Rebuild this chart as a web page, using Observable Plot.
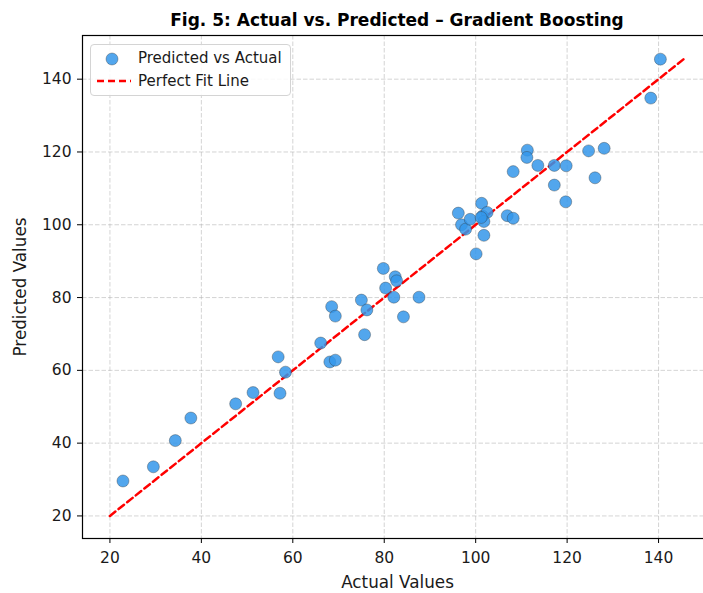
<!DOCTYPE html>
<html>
<head>
<meta charset="utf-8">
<script src="https://cdn.jsdelivr.net/npm/d3@7"></script>
<script src="https://cdn.jsdelivr.net/npm/@observablehq/plot@0.6"></script>
<style>
  html, body { margin: 0; padding: 0; background: #fff; overflow: hidden; width: 703px; height: 593px; }
  #wrap { position: relative; width: 712px; height: 593px; font-family: "DejaVu Sans", sans-serif; }
  #title { position: absolute; left: 82px; top: 0; width: 630px; height: 34px; line-height: 40px; text-align: center; font-weight: bold; font-size: 17px; color: #000; }
  #chart { position: absolute; left: 0; top: 34px; }
  #chart g[aria-label="x-axis label"], #chart g[aria-label="y-axis label"] { font-size: 16.8px; }
  #legend { position: absolute; left: 90px; top: 44px; width: 199px; height: 50px; border: 1px solid #d4d4d4; border-radius: 4px; background: rgba(255,255,255,0.85); font-size: 15px; color: #1a1a1a; }
  .row { position: absolute; left: 0; height: 20px; line-height: 20px; white-space: nowrap; }
  .row svg { position: absolute; left: 4px; top: 0; }
  .row span { position: absolute; left: 47px; top: 0; }
</style>
</head>
<body>
<div id="wrap">
  <div id="title">Fig. 5: Actual vs. Predicted – Gradient Boosting</div>
  <div id="chart"></div>
  <div id="legend">
    <div class="row" style="top:3px"><svg width="40" height="20"><circle cx="17" cy="11" r="6" fill="#3496ea" fill-opacity="0.85" stroke="#333" stroke-opacity="0.6" stroke-width="0.6"></circle></svg><span>Predicted vs Actual</span></div>
    <div class="row" style="top:26px"><svg width="40" height="20"><line x1="2" x2="36" y1="10" y2="10" stroke="red" stroke-width="2.5" stroke-dasharray="7,4"></line></svg><span>Perfect Fit Line</span></div>
  </div>
</div>
<script>
const actual = [22.85, 29.5, 34.3, 37.7, 47.5, 51.3, 57.2, 56.8, 58.4, 66.1,
  68.5, 69.3, 68.1, 69.3, 75.0, 76.2, 75.7, 79.8, 82.4, 82.7,
  80.3, 82.1, 87.6, 84.2, 96.2, 101.3, 96.9, 97.8, 98.8, 101.5,
  102.5, 101.8, 101.2, 106.9, 108.2, 101.8, 100.1, 111.3, 111.2, 108.2,
  113.6, 117.2, 119.8, 117.2, 119.7, 124.7, 128.1, 126.1, 140.4, 138.3];
const predicted = [29.6, 33.5, 40.7, 46.9, 50.8, 53.9, 53.7, 63.7, 59.5, 67.5,
  77.5, 74.9, 62.3, 62.8, 79.3, 76.6, 69.8, 88.0, 85.7, 84.6,
  82.6, 80.1, 80.1, 74.7, 103.2, 105.9, 100.0, 98.8, 101.5, 102.4,
  103.4, 100.9, 102.0, 102.5, 101.8, 97.1, 92.0, 120.5, 118.5, 114.6,
  116.3, 116.3, 116.2, 110.9, 106.3, 120.3, 121.0, 112.9, 145.5, 134.8];
const fitLine = [20, 145.5];
const xTicks = [20, 40, 60, 80, 100, 120, 140];
const yTicks = [20, 40, 60, 80, 100, 120, 140];

const points = actual.map((a, i) => ({actual: a, predicted: predicted[i]}));
const linePts = fitLine.map(v => ({x: v, y: v}));

const chart = Plot.plot({
  width: 712,
  height: 559,
  marginLeft: 82,
  marginRight: 0,
  marginTop: 1,
  marginBottom: 55,
  style: {fontFamily: "DejaVu Sans, sans-serif", fontSize: "16px", color: "#1a1a1a", background: "white", overflow: "visible"},
  x: {domain: [14, 151.8]},
  y: {domain: [13.8, 152]},
  marks: [
    Plot.gridX(xTicks, {stroke: "#b0b0b0", strokeOpacity: 0.55, strokeDasharray: "4.5,2", strokeWidth: 1}),
    Plot.gridY(yTicks, {stroke: "#b0b0b0", strokeOpacity: 0.55, strokeDasharray: "4.5,2", strokeWidth: 1}),
    Plot.axisX({ticks: xTicks, tickSize: 5, tickPadding: 8, fontSize: 15.5, label: "Actual Values", labelAnchor: "center", labelArrow: "none", labelOffset: 49, stroke: "#000"}),
    Plot.axisY({ticks: yTicks, tickSize: 5, tickPadding: 6, fontSize: 15.5, label: "Predicted Values", labelAnchor: "center", labelArrow: "none", labelOffset: 68, stroke: "#000"}),
    Plot.line(linePts, {x: "x", y: "y", stroke: "red", strokeWidth: 2.5, strokeDasharray: "7,4"}),
    Plot.dot(points, {x: "actual", y: "predicted", r: 6, fill: "#3496ea", fillOpacity: 0.85, stroke: "#333", strokeOpacity: 0.6, strokeWidth: 0.6}),
    Plot.frame({stroke: "#000", strokeWidth: 1.2})
  ]
});
document.getElementById("chart").appendChild(chart);
</script>
</body>
</html>
